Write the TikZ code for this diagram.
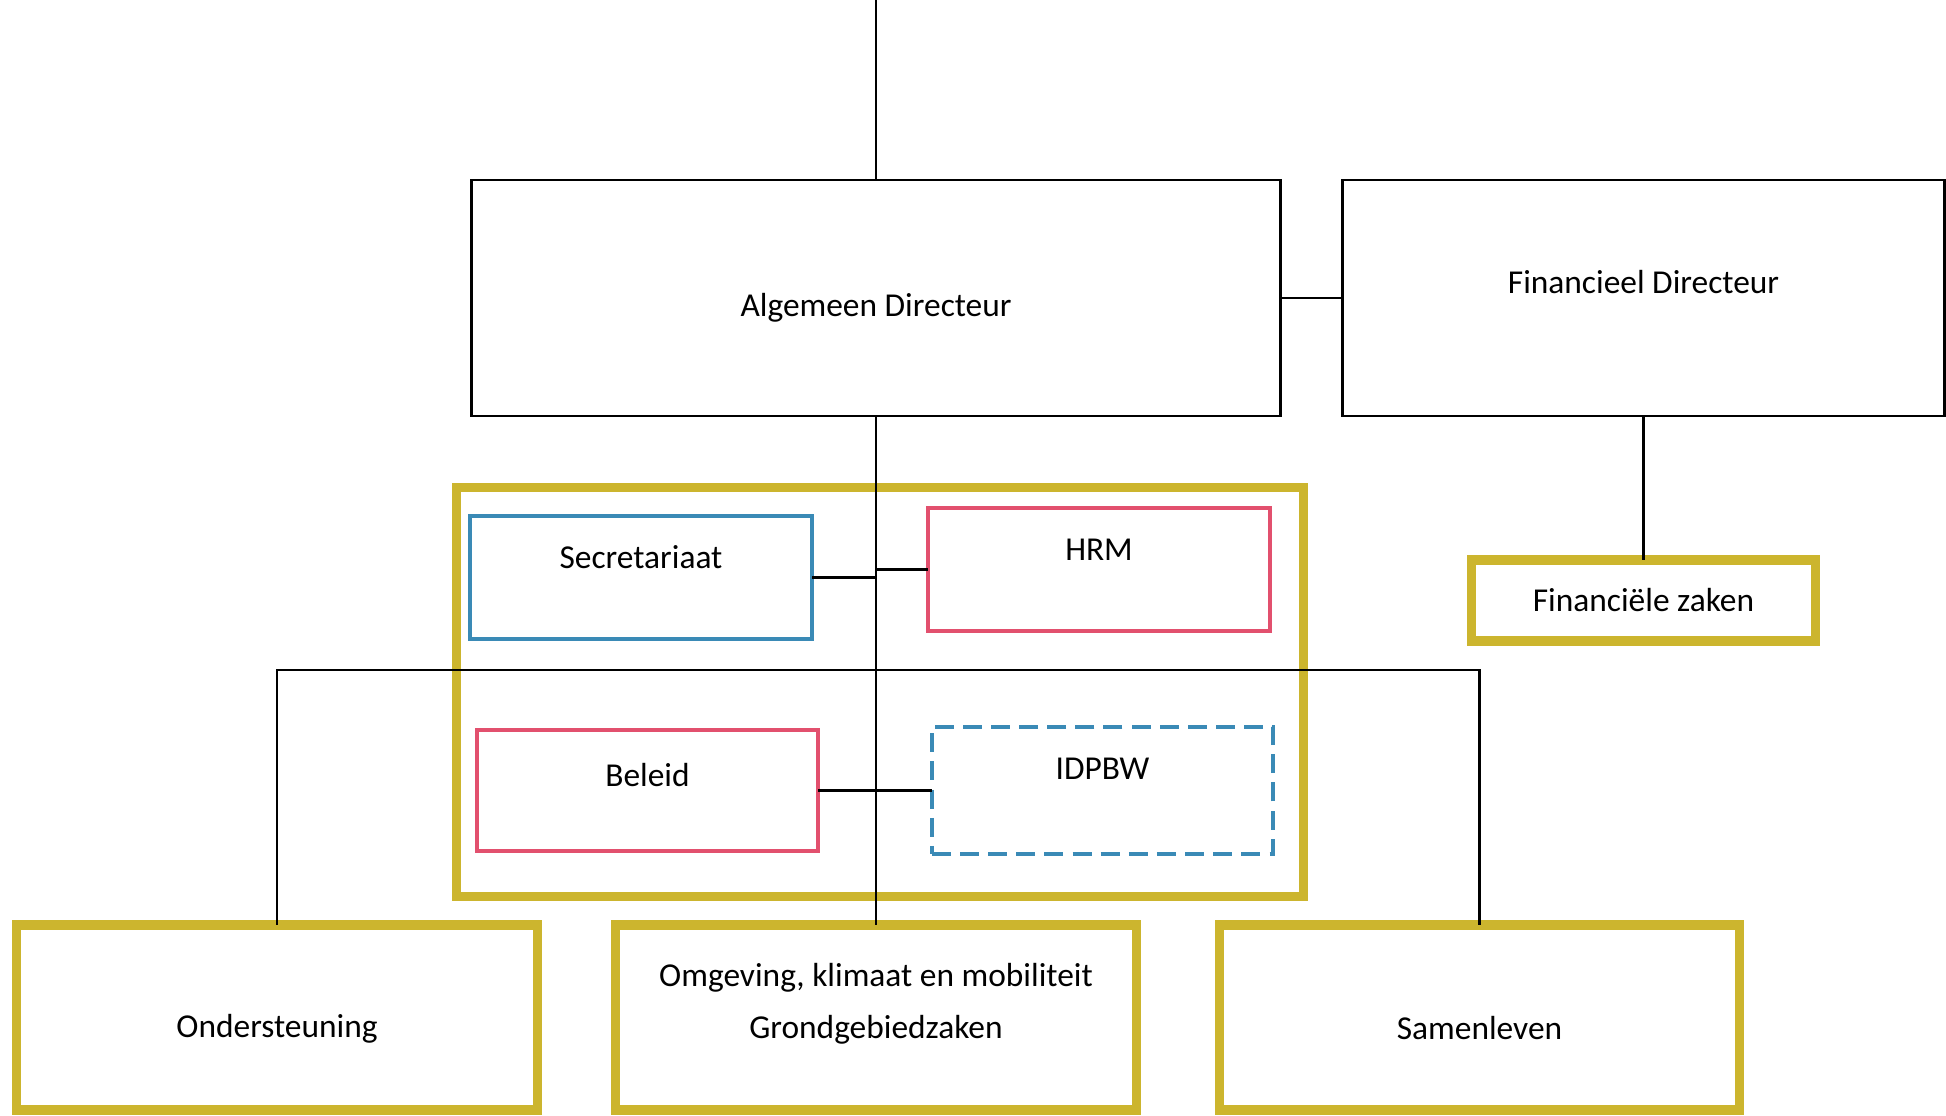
\documentclass[tikz,border=0pt]{standalone}
\usepackage{fontspec}
\setmainfont{Carlito}
\definecolor{geel}{RGB}{204,181,46}
\definecolor{blauw}{RGB}{58,138,182}
\definecolor{roze}{RGB}{226,80,110}

\begin{document}
\begin{tikzpicture}[x=0.01cm,y=-0.01cm,font=\fontsize{9.5}{14.8}\selectfont,
  box/.style={draw,line width=0.8pt,inner sep=0pt,outer sep=0pt},
  geelbox/.style={draw=geel,line width=2.6pt,inner sep=0pt,outer sep=0pt},
  dun/.style={line width=0.95pt,inner sep=0pt,outer sep=0pt},
  lijn/.style={line width=0.65pt}]
\useasboundingbox (0,0) rectangle (1946,1116);

\node[geelbox,minimum width=8.46cm,minimum height=4.08cm] (frame) at (880,692) {};

\node[box,minimum width=8.08cm,minimum height=2.36cm,
  label={[yshift=-0.1cm]center:Algemeen Directeur}] (ad) at (876,298) {};
\node[box,minimum width=6.01cm,minimum height=2.36cm,
  label={[yshift=0.16cm]center:Financieel Directeur}] (fd) at (1643.5,298) {};
\node[geelbox,minimum width=3.44cm,minimum height=0.81cm] (fz) at (1643.5,600.5) {Financiële zaken};

\node[dun,draw=blauw,minimum width=3.42cm,minimum height=1.23cm,
  label={[yshift=0.2cm]center:Secretariaat}] (sec) at (641,577.5) {};
\node[dun,draw=roze,minimum width=3.42cm,minimum height=1.23cm,
  label={[yshift=0.2cm]center:HRM}] (hrm) at (1099,569.5) {};
\node[dun,draw=roze,minimum width=3.41cm,minimum height=1.21cm,
  label={[yshift=0.15cm]center:Beleid}] (bel) at (647.5,790.5) {};
\node[dun,draw=blauw,dash pattern=on 5.4pt off 2.6pt,minimum width=3.41cm,minimum height=1.27cm,
  label={[yshift=0.22cm]center:IDPBW}] (idp) at (1102.5,790.5) {};

\node[geelbox,minimum width=5.2cm,minimum height=1.85cm,
  label={[yshift=-0.11cm]center:Ondersteuning}] (ond) at (277,1017.5) {};
\node[geelbox,minimum width=5.2cm,minimum height=1.85cm,
  label={[yshift=0.14cm,align=center]center:{Omgeving, klimaat en mobiliteit\\Grondgebiedzaken}}] (omg) at (876,1017.5) {};
\node[geelbox,minimum width=5.2cm,minimum height=1.85cm,
  label={[yshift=-0.11cm]center:Samenleven}] (sam) at (1479.5,1017.5) {};

\coordinate (top) at (876,0);
\coordinate (bus) at (876,670);

\draw[lijn] (top) -- (ad.north);
\draw[lijn] (ad.east) -- (fd.west);
\draw[lijn] (fd.south) -- (fz.north);
\draw[lijn] (ad.south) -- (omg.north);
\draw[lijn] (sec.east) -- (sec.east -| ad.south);
\draw[lijn] (hrm.west) -- (hrm.west -| ad.south);
\draw[lijn] (bel.east) -- (idp.west);
\draw[lijn] (ond.north) -- (ond.north |- bus) -- (sam.north |- bus) -- (sam.north);

\end{tikzpicture}
\end{document}
